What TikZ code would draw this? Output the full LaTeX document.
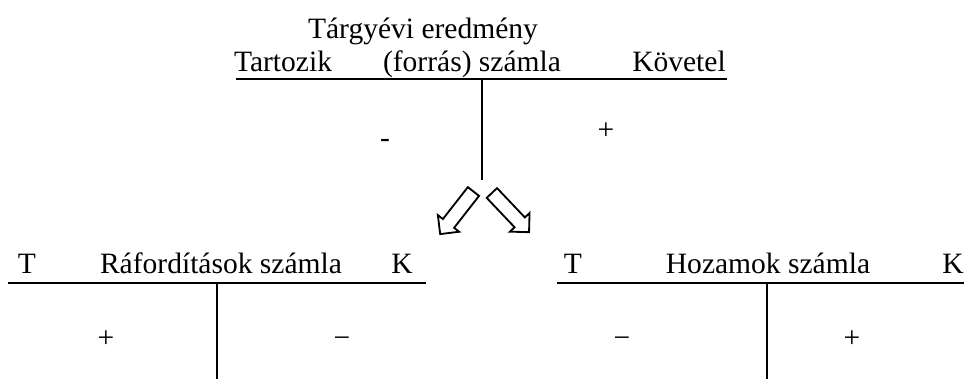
\documentclass[tikz,border=0pt]{standalone}
\usepackage{fontspec}
\setmainfont{Liberation Serif}
\usetikzlibrary{shapes.arrows,positioning}

\begin{document}
\begin{tikzpicture}[x=0.025cm,y=0.025cm,
	lbl/.style={anchor=base,inner sep=0pt,font=\fontsize{21}{24}\selectfont},
	sgn/.style={anchor=base,inner sep=0pt,font=\fontsize{21}{24}\selectfont},
	acc/.style={line width=1.4pt},
	hollow/.style={single arrow,draw,line width=1.3pt,minimum height=1.35cm,inner xsep=0pt,inner ysep=0.155cm,single arrow head extend=0.16cm}]
	\useasboundingbox (0,0) rectangle (964,379);
	
	% eredmeny szamla
	\node[lbl] (cim) at (423,340) {Tárgyévi eredmény};
	\node[lbl] (tart) at (283,307) {Tartozik};
	\node[lbl] (forras) at (472,307) {(forrás) számla};
	\node[lbl] (kov) at (679,307) {Követel};
	\node[sgn] (eminus) at (385,231) {-};
	\node[sgn] (eplus) at (606,239) {+};
	\coordinate (eL) at (236,300);
	\coordinate (eR) at (727,300);
	\coordinate (eT) at (482,300);
	\coordinate (eB) at (482,199);
	\draw[acc] (eL) -- (eR) (eT) -- (eB);
	
	\node[hollow,rotate=232] (nyilR) at (459,169) {};
	\node[hollow,rotate=313.5] (nyilH) at (508,169) {};
	
	% raforditasok
	\node[lbl] (rT) at (27,105) {T};
	\node[lbl] (rcim) at (221,105) {Ráfordítások számla};
	\node[lbl] (rK) at (402,105) {K};
	\node[sgn] (rplus) at (106,31) {+};
	\node[sgn] (rminus) at (342,31) {−};
	\coordinate (rL) at (8,96);
	\coordinate (rR) at (426,96);
	\coordinate (rT1) at (217,96);
	\coordinate (rB) at (217,0);
	\draw[acc] (rL) -- (rR) (rT1) -- (rB);
	
	% hozamok
	\node[lbl] (hT) at (573,105) {T};
	\node[lbl] (hcim) at (768,105) {Hozamok számla};
	\node[lbl] (hK) at (953,105) {K};
	\node[sgn] (hminus) at (622,31) {−};
	\node[sgn] (hplus) at (852,31) {+};
	\coordinate (hL) at (557,96);
	\coordinate (hR) at (964,96);
	\coordinate (hT1) at (767,96);
	\coordinate (hB) at (767,0);
	\draw[acc] (hL) -- (hR) (hT1) -- (hB);
\end{tikzpicture}
\end{document}
